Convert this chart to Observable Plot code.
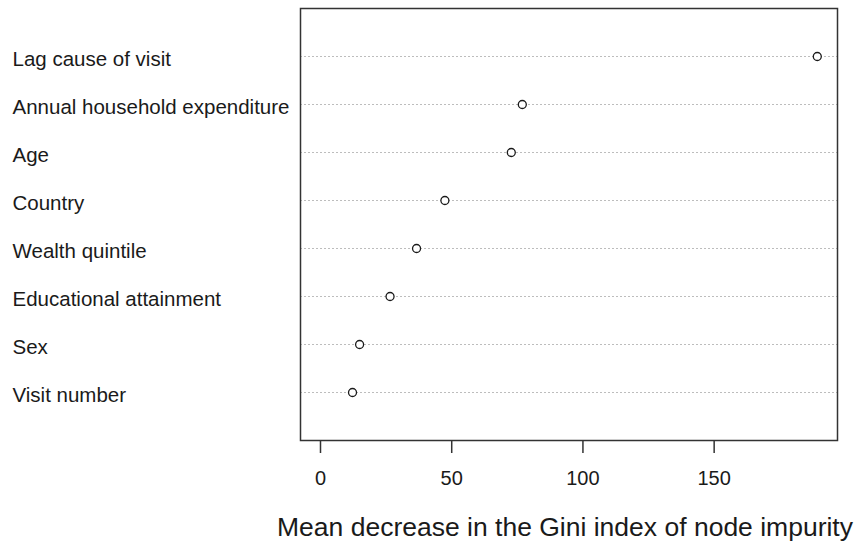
<!DOCTYPE html>
<html>
<head>
<meta charset="utf-8">
<script src="https://cdn.jsdelivr.net/npm/d3@7"></script>
<script src="https://cdn.jsdelivr.net/npm/@observablehq/plot@0.6"></script>
<style>
  html, body { margin: 0; padding: 0; background: #fff; }
  svg { display: block; font-family: "Liberation Sans", Arial, sans-serif; }
</style>
</head>
<body>
<div id="chart"></div>
<script>
const variables = [
  "Lag cause of visit",
  "Annual household expenditure",
  "Age",
  "Country",
  "Wealth quintile",
  "Educational attainment",
  "Sex",
  "Visit number"
];
const giniDecrease = [189.3, 76.9, 72.7, 47.4, 36.6, 26.5, 14.9, 12.2];
const xTicks = [0, 50, 100, 150];
const xTitle = "Mean decrease in the Gini index of node impurity";

const data = variables.map((v, i) => ({variable: v, value: giniDecrease[i]}));

const chart = Plot.plot({
  width: 859,
  height: 544,
  marginLeft: 300,
  marginRight: 22,
  marginTop: 8,
  marginBottom: 104,
  style: {fontFamily: '"Liberation Sans", Arial, sans-serif', color: "#1a1a1a", background: "#fff"},
  x: {domain: [-7.62, 197.0], ticks: xTicks},
  y: {type: "point", domain: variables, padding: 1},
  marks: [
    Plot.ruleY(data, {y: "variable", stroke: "#bdbdbd", strokeWidth: 1, strokeDasharray: "2,2"}),
    Plot.dot(data, {x: "value", y: "variable", r: 4, stroke: "#1a1a1a", strokeWidth: 1.3, fill: "white"}),
    Plot.frame({stroke: "#333", strokeWidth: 1.5}),
    Plot.axisX({ticks: xTicks, tickSize: 13, tickPadding: 17, fontSize: 20, label: null, stroke: "#333", strokeWidth: 1.5}),
    Plot.axisY({tickSize: 0, tickPadding: 0, textAnchor: "start", dx: -288, dy: 3, fontSize: 20.5, label: null}),
    Plot.text([xTitle], {frameAnchor: "bottom", text: d => d, dy: 87, dx: -4, lineAnchor: "middle", fontSize: 26.5, fill: "#1a1a1a"})
  ]
});
document.getElementById("chart").appendChild(chart);
</script>
</body>
</html>
